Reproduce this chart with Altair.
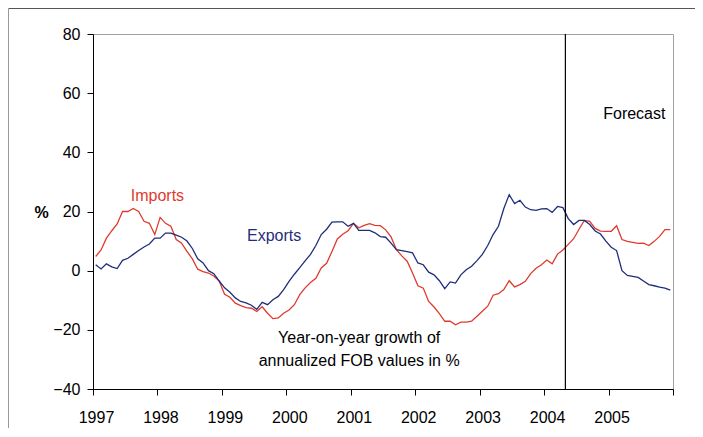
import altair as alt
import pandas as pd

years = [1997, 1998, 1999, 2000, 2001, 2002, 2003, 2004, 2005, 2006]

imports = [
    4.8, 7.0, 11.0, 13.5, 15.8, 20.0, 20.0, 21.0, 20.0, 16.7, 16.0, 12.2,
    18.0, 16.0, 15.0, 10.5, 9.3, 6.5, 4.0, 0.5, -0.3, -0.8, -1.8, -3.5,
    -8.0, -9.0, -11.0, -11.8, -12.5, -12.7, -13.8, -12.2, -14.4, -16.2, -16.0, -14.4,
    -13.3, -11.5, -8.1, -5.8, -4.0, -2.6, 0.9, 2.5, 6.5, 10.7, 12.3, 13.5,
    16.0, 14.5, 15.3, 15.9, 15.3, 15.2, 13.8, 11.4, 7.1, 5.0, 3.2, -0.8,
    -5.1, -5.9, -10.4, -12.3, -14.5, -17.1, -17.1, -18.3, -17.4, -17.4, -17.1, -15.4,
    -13.7, -12.0, -8.3, -7.8, -6.4, -3.4, -5.5, -4.7, -3.6, -1.0, 0.8, 2.0,
    3.6, 2.3, 5.6, 7.0, 8.9, 10.8, 14.0, 17.0, 16.7, 14.3, 13.4, 13.3,
    13.3, 15.2, 10.5, 9.9, 9.6, 9.2, 9.3, 8.5, 9.9, 11.6, 13.9, 13.9,
]

exports = [
    2.0, 0.6, 2.3, 1.3, 0.7, 3.5, 4.2, 5.5, 6.8, 8.0, 9.0, 11.0,
    11.0, 12.7, 12.7, 12.0, 11.3, 10.0, 7.5, 4.0, 2.6, 0.0, -1.0, -3.5,
    -5.8, -7.3, -9.2, -10.4, -10.9, -11.7, -13.1, -10.7, -11.5, -9.8, -8.7, -6.4,
    -3.6, -1.2, 1.0, 3.3, 5.5, 8.5, 12.2, 14.0, 16.4, 16.5, 16.5, 15.0,
    16.0, 13.6, 13.6, 13.6, 12.8, 11.5, 11.3, 9.3, 7.1, 6.8, 6.4, 6.0,
    2.6, 2.0, -0.5, -1.4, -3.4, -6.1, -3.8, -4.2, -1.4, 0.3, 1.5, 3.4,
    5.5, 8.5, 12.2, 15.0, 21.0, 25.7, 22.7, 23.8, 21.5, 20.6, 20.4, 20.9,
    21.0, 19.7, 21.7, 21.3, 17.6, 15.6, 17.0, 17.0, 15.6, 13.4, 12.4, 10.0,
    7.9, 6.8, 0.0, -1.6, -1.9, -2.3, -3.5, -4.7, -5.1, -5.6, -5.9, -6.6,
]

series_names = ["Imports", "Exports"]
series_colors = ["#E03A2E", "#1F2E7A"]
forecast_start = 2004.33

n = len(imports)
months = [1997 + (i + 0.5) / 12 for i in range(n)]
df = pd.DataFrame({
    "t": months + months,
    "value": imports + exports,
    "series": ["Imports"] * n + ["Exports"] * n,
})

FONT = "Liberation Sans"

x_enc = alt.X(
    "t:Q",
    scale=alt.Scale(domain=[1997, 2006], nice=False, zero=False),
    axis=alt.Axis(
        values=years, format="d", grid=False, title=None,
        labelExpr="datum.value == 2006 ? '' : datum.label",
        labelPadding=14, labelOffset=3, labelFlush=False, labelOverlap=False,
    ),
)
y_enc = alt.Y(
    "value:Q",
    scale=alt.Scale(domain=[-40, 80], nice=False, zero=False),
    axis=alt.Axis(
        values=[-40, -20, 0, 20, 40, 60, 80], grid=False,
        title="%", titleAngle=0, titleFontWeight="bold", titleFontSize=16,
        titleX=-52, titleY=178, titleAlign="center", titleBaseline="middle",
        titleFont=FONT, labelPadding=7,
    ),
)

lines = alt.Chart(df).mark_line(strokeWidth=1.3).encode(
    x=x_enc,
    y=y_enc,
    color=alt.Color("series:N", scale=alt.Scale(domain=series_names, range=series_colors), legend=None),
    detail="series:N",
)

forecast_rule = alt.Chart().mark_rule(color="black", strokeWidth=1.2).encode(
    x=alt.datum(forecast_start)
)

def label(text, xv, yv, color, **kw):
    return alt.Chart().mark_text(
        text=text, color=color, fontSize=16, font=FONT,
        align="center", baseline="middle", **kw
    ).encode(x=alt.datum(xv), y=alt.datum(yv))

lbl_imp = label("Imports", 1998.0, 25.3, series_colors[0])
lbl_exp = label("Exports", 1999.81, 11.8, series_colors[1])
lbl_fc = label("Forecast", 2005.40, 53.1, "black")
lbl_note = label("Year-on-year growth of\nannualized FOB values in %", 2001.13, -22.7, "black",
                 lineBreak="\n", lineHeight=23)

frame_top = alt.Chart().mark_rule(color="#555555", strokeWidth=1).encode(
    x=alt.value(-84.5), x2=alt.value(610), y=alt.value(-25.5)
)
frame_left = alt.Chart().mark_rule(color="#999999", strokeWidth=1).encode(
    x=alt.value(-84.5), y=alt.value(-25.5), y2=alt.value(405)
)

chart = alt.layer(
    frame_top, frame_left, lines, forecast_rule, lbl_imp, lbl_exp, lbl_fc, lbl_note
).properties(
    width=580, height=355,
    autosize=alt.AutoSizeParams(type="none"),
    padding={"left": 85, "top": 26, "right": 22, "bottom": 39},
    background="white",
).configure_view(
    stroke="#A0A0A0", strokeWidth=1,
).configure_axis(
    domainColor="black", tickColor="black", labelColor="black", titleColor="black",
    labelFont=FONT, labelFontSize=16, tickSize=6, domainWidth=1, tickWidth=1,
)

chart.save("out.html", embed_options={"renderer": "svg", "actions": False})
